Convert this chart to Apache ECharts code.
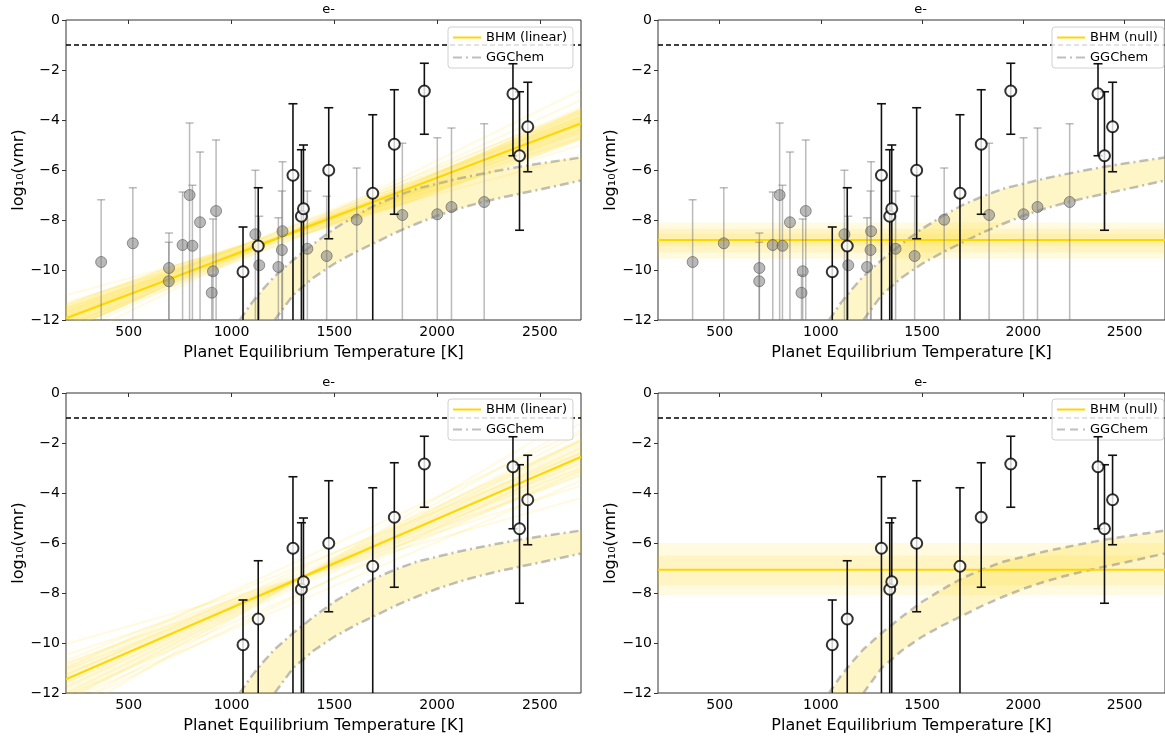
<!DOCTYPE html>
<html><head><meta charset="utf-8">
<script src="https://cdn.jsdelivr.net/npm/echarts@6/dist/echarts.min.js"></script>
<style>html,body{margin:0;padding:0;background:#fff}#c{width:1165px;height:738px}</style>
</head><body><div id="c"></div>
<script>
// ---------- axes ----------
const xMin = 195, xMax = 2700;
const xTickValues = [500, 1000, 1500, 2000, 2500];
const yMin = -12, yMax = 0, yStep = 2;
const panelTitle = 'e-';
const xName = 'Planet Equilibrium Temperature [K]';
const yName = 'log\u2081\u2080(vmr)';
const refLevel = -1;

// ---------- retrieved (black) points ----------
const obsT  = [1056, 1130, 1299, 1340, 1350, 1473, 1687, 1792, 1938, 2369, 2401, 2441];
const obsV  = [-10.07, -9.04, -6.21, -7.85, -7.55, -6.01, -6.93, -4.97, -2.84, -2.95, -5.43, -4.27];
const obsHi = [-8.28, -6.71, -3.35, -5.19, -5.00, -3.51, -3.79, -2.79, -1.73, -1.75, -2.87, -2.49];
const obsLo = [null, null, null, null, null, -8.75, null, -7.77, -4.57, -5.43, -8.41, -6.07];

// ---------- upper-limit (grey) points ----------
const grayT  = [366, 520, 696, 695, 762, 796, 810, 847, 910, 904, 925, 1116, 1135, 1228, 1248, 1245, 1369, 1463, 1609, 1831, 2001, 2070, 2229];
const grayV  = [-9.68, -8.93, -9.92, -10.45, -9.00, -7.00, -9.03, -8.09, -10.05, -10.91, -7.64, -8.57, -9.81, -9.88, -8.45, -9.20, -9.15, -9.44, -7.99, -7.80, -7.77, -7.48, -7.28];
const grayHi = [-7.19, -6.71, -8.52, -8.89, -6.88, -4.12, -6.61, -5.28, -7.96, -10.20, -4.80, -6.01, -7.85, -7.91, -5.67, -6.84, -6.84, -7.05, -5.92, -4.93, -4.71, -4.32, -4.15];

// ---------- GGChem envelope ----------
const ggT     = [1040, 1100, 1150, 1210, 1300, 1400, 1500, 1600, 1700, 1800, 1900, 2000, 2100, 2200, 2300, 2400, 2500, 2600, 2700];
const ggUpper = [-12, -11.3, -10.8, -10.25, -9.6, -8.95, -8.35, -7.85, -7.4, -7.05, -6.75, -6.55, -6.35, -6.18, -6.02, -5.87, -5.74, -5.62, -5.5];
const ggLower = [null, null, null, -12, -11.0, -10.3, -9.75, -9.3, -8.9, -8.5, -8.15, -7.83, -7.56, -7.33, -7.13, -6.95, -6.78, -6.6, -6.42];

// ---------- BHM fits (values at xMin, xMax) ----------
const bhmLinearTop    = [-11.93, -4.13];
const bhmLinearBottom = [-11.45, -2.55];
const linSamplesTop = [
  [-12.90, -2.8], [-12.61, -3.2], [-12.39, -3.5], [-12.25, -3.7], [-12.14, -3.85], [-12.03, -4.0],
  [-11.96, -4.1], [-11.88, -4.2], [-11.78, -4.35], [-11.67, -4.5], [-11.52, -4.7], [-11.30, -5.0],
  [-11.01, -5.4], [-11.70, -3.9], [-12.20, -4.4], [-11.60, -4.0], [-12.35, -4.2], [-11.85, -3.6]
];
const linCoreTopT  = [195, 700, 1250, 1800, 2700];
const linCoreTopHi = [-11.35, -9.85, -8.47, -6.8, -3.55];
const linCoreTopLo = [-12.5, -10.6, -8.85, -7.5, -4.8];
const linSamplesBottom = [
  [-12.95, -0.8], [-12.61, -1.2], [-12.27, -1.6], [-12.01, -1.9], [-11.76, -2.2], [-11.58, -2.4],
  [-11.41, -2.6], [-11.24, -2.8], [-11.07, -3.0], [-10.81, -3.3], [-10.47, -3.7], [-10.04, -4.2],
  [-11.00, -1.5], [-12.30, -3.5], [-11.30, -1.9], [-12.10, -3.1], [-10.70, -2.4], [-12.60, -2.6]
];
const linCoreBottomT  = [195, 1350, 2700];
const linCoreBottomHi = [-10.8, -7.1, -1.8];
const linCoreBottomLo = [-12.3, -7.65, -3.3];
const bhmNullTop = -8.8;
const nullBandsTop = [[-8.1, -9.55], [-8.35, -9.3], [-8.55, -9.05]];
const bhmNullBottom = -7.07;
const nullBandsBottom = [[-6.0, -8.1], [-6.5, -7.7]];

// ---------- styling ----------
const FONT = 'DejaVu Sans';
const GOLD = '#FFD700';
const GG_COLOR = 'rgba(128,128,128,0.5)';
const grids = [
  {left: 66, top: 20, width: 515, height: 300},
  {left: 658, top: 20, width: 515, height: 300},
  {left: 66, top: 393, width: 515, height: 300},
  {left: 658, top: 393, width: 515, height: 300}
];
const panels = [
  {mode: 'linear', fit: bhmLinearTop, samples: linSamplesTop, core: [linCoreTopT, linCoreTopHi, linCoreTopLo, 0.28], gray: true, ggDash: [9, 4, 2, 4], ggName: 'GGChem'},
  {mode: 'null', level: bhmNullTop, bands: nullBandsTop, gray: true, ggDash: [9, 4, 2, 4], ggName: 'GGChem'},
  {mode: 'linear', fit: bhmLinearBottom, samples: linSamplesBottom, core: [linCoreBottomT, linCoreBottomHi, linCoreBottomLo, 0.12], gray: false, ggDash: [9, 4, 2, 4], ggName: 'GGChem'},
  {mode: 'null', level: bhmNullBottom, bands: nullBandsBottom, gray: false, ggDash: [8, 5], ggName: 'GGChem\u200B'}
];
const legendPos = [[448, 27], [1052, 27], [448, 399], [1052, 399]];

function errBar(color, lw, cap) {
  return function (params, api) {
    const x = api.value(0), hi = api.value(1), lo = api.value(2), hasLo = api.value(3);
    const a = api.coord([x, hi]);
    const b = api.coord([x, lo]);
    const st = {stroke: color, lineWidth: lw};
    const ch = [
      {type: 'line', shape: {x1: a[0], y1: a[1], x2: b[0], y2: b[1]}, style: st},
      {type: 'line', shape: {x1: a[0] - cap, y1: a[1], x2: a[0] + cap, y2: a[1]}, style: st}
    ];
    if (hasLo) ch.push({type: 'line', shape: {x1: b[0] - cap, y1: b[1], x2: b[0] + cap, y2: b[1]}, style: st});
    return {type: 'group', children: ch};
  };
}
// polygon between an upper and a lower curve (null lower = axis bottom)
function bandPoly(xs, hi, lo, color) {
  return function (params, api) {
    const pts = [];
    for (let i = 0; i < xs.length; i++) pts.push(api.coord([xs[i], hi[i]]));
    for (let i = xs.length - 1; i >= 0; i--) pts.push(api.coord([xs[i], lo[i] === null ? yMin : lo[i]]));
    return {type: 'polygon', shape: {points: pts}, style: {fill: color}};
  };
}

const xAxes = [], yAxes = [], series = [], titles = [], legends = [];

panels.forEach((p, k) => {
  const g = grids[k];
  titles.push({text: panelTitle, left: g.left + g.width / 2, textAlign: 'center', top: g.top - 22,
    textStyle: {fontFamily: FONT, fontSize: 13, fontWeight: 'normal', color: '#000'}});
  xAxes.push({type: 'value', gridIndex: k, min: xMin, max: xMax,
    name: xName, nameLocation: 'middle', nameGap: 25,
    nameTextStyle: {fontFamily: FONT, fontSize: 16, color: '#000'},
    axisLine: {show: false}, splitLine: {show: false},
    axisTick: {show: true, length: 4, customValues: xTickValues, lineStyle: {color: '#333'}},
    axisLabel: {customValues: xTickValues, fontFamily: FONT, fontSize: 14, color: '#000', margin: 5,
      formatter: v => String(v)}});
  yAxes.push({type: 'value', gridIndex: k, min: yMin, max: yMax, interval: yStep,
    name: yName, nameLocation: 'middle', nameGap: 38, nameRotate: 90,
    nameTextStyle: {fontFamily: FONT, fontSize: 16, color: '#000'},
    axisLine: {show: false}, splitLine: {show: false},
    axisTick: {show: true, length: 4, lineStyle: {color: '#333'}},
    axisLabel: {fontFamily: FONT, fontSize: 14, color: '#000', margin: 6,
      formatter: v => String(v).replace('-', '\u2212')}});
  const ax = {xAxisIndex: k, yAxisIndex: k};
  const bhmName = p.mode === 'linear' ? 'BHM (linear)' : 'BHM (null)';

  // GGChem fill
  series.push(Object.assign({type: 'custom', name: 'ggfill', clip: true, silent: true, z: 1,
    renderItem: bandPoly(ggT, ggUpper, ggLower, 'rgba(255,215,0,0.22)'),
    data: [[ggT[0], ggUpper[0]]]}, ax));
  // GGChem curves
  const ggStyle = {color: GG_COLOR, width: 2.5, type: p.ggDash};
  series.push(Object.assign({type: 'line', name: p.ggName, data: ggT.map((t, i) => [t, ggUpper[i]]), symbol: 'none',
    lineStyle: ggStyle, itemStyle: {color: GG_COLOR}, z: 2}, ax));
  series.push(Object.assign({type: 'line', name: p.ggName, data: ggT.map((t, i) => [t, ggLower[i]]).filter(d => d[1] !== null), symbol: 'none',
    lineStyle: ggStyle, itemStyle: {color: GG_COLOR}, z: 2}, ax));

  // BHM
  if (p.mode === 'linear') {
    series.push(Object.assign({type: 'custom', name: 'core', clip: true, silent: true, z: 2,
      renderItem: bandPoly(p.core[0], p.core[1], p.core[2], 'rgba(255,215,0,' + p.core[3] + ')'),
      data: [[p.core[0][0], p.core[1][0]]]}, ax));
    p.samples.forEach(s => {
      series.push(Object.assign({type: 'line', name: 'sample', data: [[xMin, s[0]], [xMax, s[1]]], symbol: 'none',
        lineStyle: {color: 'rgba(255,215,0,0.12)', width: 2}, silent: true, z: 2}, ax));
    });
    series.push(Object.assign({type: 'line', name: bhmName, data: [[xMin, p.fit[0]], [xMax, p.fit[1]]], symbol: 'none',
      lineStyle: {color: GOLD, width: 2}, itemStyle: {color: GOLD}, z: 3}, ax));
  } else {
    series.push(Object.assign({type: 'line', name: bhmName, data: [[xMin, p.level], [xMax, p.level]], symbol: 'none',
      lineStyle: {color: GOLD, width: 2}, itemStyle: {color: GOLD}, z: 3,
      markArea: {silent: true, itemStyle: {color: 'rgba(255,215,0,0.12)'},
        data: p.bands.map(b => [{yAxis: b[0]}, {yAxis: b[1]}])}}, ax));
  }

  // reference dashed line
  series.push(Object.assign({type: 'line', name: 'ref', data: [[xMin, refLevel], [xMax, refLevel]], symbol: 'none',
    lineStyle: {color: '#000', width: 1.3, type: [5, 3]}, silent: true, z: 3}, ax));

  // grey points
  if (p.gray) {
    series.push(Object.assign({type: 'custom', name: 'grayerr', clip: true, z: 4,
      renderItem: errBar('rgba(120,120,120,0.5)', 1.5, 4),
      encode: {x: 0, y: [1, 2]},
      data: grayT.map((t, i) => [t, grayHi[i], yMin - 1, 0])}, ax));
    series.push(Object.assign({type: 'scatter', name: 'gray', symbolSize: 11, z: 4,
      itemStyle: {color: 'rgba(120,120,120,0.65)', borderColor: 'rgba(80,80,80,0.7)', borderWidth: 1},
      data: grayT.map((t, i) => [t, grayV[i]])}, ax));
  }
  // black points
  series.push(Object.assign({type: 'custom', name: 'obserr', clip: true, z: 5,
    renderItem: errBar('#111', 1.6, 4.5),
    encode: {x: 0, y: [1, 2]},
    data: obsT.map((t, i) => [t, obsHi[i], obsLo[i] === null ? yMin - 1 : obsLo[i], obsLo[i] === null ? 0 : 1])}, ax));
  series.push(Object.assign({type: 'scatter', name: 'obs', symbolSize: 11, z: 6,
    itemStyle: {color: '#fff', borderColor: '#000', borderWidth: 2},
    data: obsT.map((t, i) => [t, obsV[i]])}, ax));

  legends.push({left: legendPos[k][0], top: legendPos[k][1], orient: 'vertical', selectedMode: false,
    backgroundColor: 'rgba(255,255,255,0.85)', borderColor: '#d0d0d0', borderWidth: 1, borderRadius: 3,
    padding: [4, 6, 4, 4], itemGap: 7, itemWidth: 28, itemHeight: 12,
    itemStyle: {opacity: 0, borderWidth: 0},
    textStyle: {fontFamily: FONT, fontSize: 13, color: '#000'},
    data: [bhmName, p.ggName]});
});

const chart = echarts.init(document.getElementById('c'), null, {renderer: 'canvas'});
chart.setOption({
  animation: false,
  backgroundColor: '#fff',
  title: titles,
  legend: legends,
  grid: grids.map(g => Object.assign({show: true, borderColor: '#333', borderWidth: 1, backgroundColor: 'transparent'}, g)),
  xAxis: xAxes,
  yAxis: yAxes,
  series: series
});
</script></body></html>
